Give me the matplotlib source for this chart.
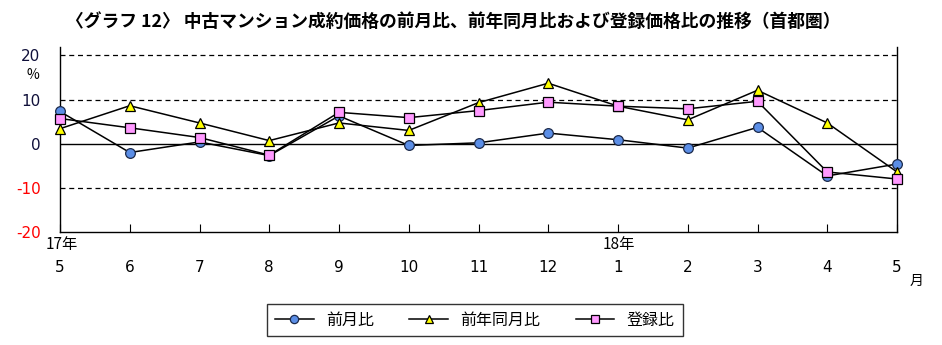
import matplotlib.pyplot as plt
import numpy as np

plt.rcParams['font.family'] = ['Noto Sans CJK JP', 'DejaVu Sans']

months = ['5', '6', '7', '8', '9', '10', '11', '12', '1', '2', '3', '4', '5']
mom = [7.3, -2.0, 0.4, -2.7, 6.3, -0.4, 0.2, 2.4, 0.9, -1.0, 3.7, -7.3, -4.6]
yoy = [3.4, 8.6, 4.7, 0.7, 4.7, 3.0, 9.3, 13.7, 8.5, 5.4, 12.1, 4.7, -6.4]
listing = [5.7, 3.6, 1.4, -2.6, 7.1, 5.9, 7.5, 9.4, 8.5, 7.9, 9.6, -6.4, -8.0]
yticks = [20, 10, 0, -10, -20]

x = np.arange(len(months))

fig = plt.figure(figsize=(9.42, 3.45), dpi=100)
ax = fig.add_axes([60 / 942, 1 - 232 / 345, 837 / 942, 185 / 345])

# horizontal reference lines
for v in [20, 10, -10]:
    ax.axhline(v, color='black', linestyle=(0, (4, 3)), linewidth=0.9, zorder=1)
ax.axhline(0, color='black', linewidth=1.0, zorder=1)

ax.plot(x, mom, color='black', linewidth=1.1, marker='o', markersize=7,
        markerfacecolor='#5b8ee6', markeredgecolor='#1c2a4a', markeredgewidth=0.9,
        label='前月比', zorder=3, clip_on=False)
ax.plot(x, yoy, color='black', linewidth=1.1, marker='^', markersize=7.5,
        markerfacecolor='#ffff00', markeredgecolor='black', markeredgewidth=0.9,
        label='前年同月比', zorder=3, clip_on=False)
ax.plot(x, listing, color='black', linewidth=1.1, marker='s', markersize=7,
        markerfacecolor='#ff99ff', markeredgecolor='black', markeredgewidth=0.9,
        label='登録比', zorder=4, clip_on=False)

ax.set_xlim(0, len(months) - 1)
ax.set_ylim(-20, 21.9)
ax.spines['top'].set_visible(False)
for s in ['left', 'right', 'bottom']:
    ax.spines[s].set_linewidth(1.0)

ax.set_yticks(yticks)
ax.set_yticklabels([str(v) for v in yticks], fontsize=11, family='DejaVu Sans')
for lab, v in zip(ax.get_yticklabels(), yticks):
    lab.set_color('red' if v < 0 else '#10103a')
ax.tick_params(axis='y', length=0, pad=14)

ax.set_xticks(x)
ax.set_xticklabels(months, fontsize=11, family='DejaVu Sans')
ax.tick_params(axis='x', direction='in', length=6, pad=20)

fig.text(33 / 942, 1 - 75 / 345, '%', fontsize=10, ha='center', va='center')
fig.text(62 / 942, 1 - 245 / 345, '17年', fontsize=11, ha='center', va='center')
fig.text(619 / 942, 1 - 245 / 345, '18年', fontsize=11, ha='center', va='center')
fig.text(917 / 942, 1 - 281 / 345, '月', fontsize=10, ha='center', va='center')

fig.text(453 / 942, 1 - 22 / 345,
         '〈グラフ 12〉 中古マンション成約価格の前月比、前年同月比および登録価格比の推移（首都圏）',
         fontsize=12.8, fontweight='bold', ha='center', va='center')

leg = fig.legend(loc='center', bbox_to_anchor=(475 / 942, 1 - 320 / 345), ncol=3,
                 frameon=True, fancybox=False, edgecolor='black', fontsize=11.5,
                 handlelength=2.4, columnspacing=2.2, borderpad=0.5, markerscale=0.85)
leg.get_frame().set_linewidth(1.0)

fig.savefig('out.png', dpi=100)
